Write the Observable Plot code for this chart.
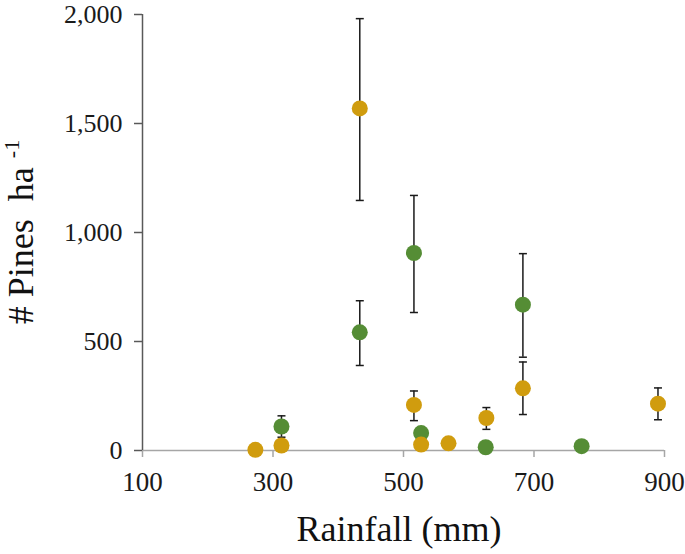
<!DOCTYPE html>
<html><head><meta charset="utf-8">
<script src="https://cdn.jsdelivr.net/npm/d3@7"></script>
<script src="https://cdn.jsdelivr.net/npm/@observablehq/plot@0.6"></script>
<style>body{margin:0;background:#fff}</style>
</head><body><div id="chart"></div>
<script>
const xTicks = [100, 300, 500, 700, 900];
const yTicks = [0, 500, 1000, 1500, 2000];

const greenRain = [313, 433, 516, 527, 626, 683, 773];
const greenPines = [110, 542, 906, 80, 15, 669, 20];
const greenLow = [61, 390, 633, null, null, 428, null];
const greenHigh = [159, 687, 1170, null, null, 903, null];

const orangeRain = [273, 313, 433, 516, 527, 569, 627, 683, 890];
const orangePines = [3, 23, 1569, 209, 27, 33, 149, 285, 215];
const orangeLow = [null, null, 1147, 137, null, null, 97, 165, 141];
const orangeHigh = [null, null, 1981, 273, null, null, 197, 406, 287];

const rows = (rain, val, lo, hi, series) =>
  rain.map((r, i) => ({rain: r, value: val[i], lo: lo[i], hi: hi[i], series}));
const data = [
  ...rows(greenRain, greenPines, greenLow, greenHigh, "Series A"),
  ...rows(orangeRain, orangePines, orangeLow, orangeHigh, "Series B")
];
const errs = data.filter(d => d.lo != null);

const capSymbol = {draw(ctx, size) { const w = Math.sqrt(size / Math.PI); ctx.moveTo(-w, 0); ctx.lineTo(w, 0); }};
const serif = "'Liberation Serif', 'Times New Roman', serif";

const chart = Plot.plot({
  width: 685, height: 554,
  marginLeft: 142, marginRight: 21, marginTop: 14, marginBottom: 104,
  style: {fontFamily: serif, background: "#fff", overflow: "visible"},
  x: {domain: [100, 900]},
  y: {domain: [0, 2000]},
  color: {type: "ordinal", domain: ["Series A", "Series B"], range: ["#558d35", "#d09c0e"]},
  marks: [
    Plot.ruleY([0], {stroke: "#a6a6a6", strokeWidth: 1.5}),
    Plot.axisX({ticks: xTicks, tickFormat: d => String(d), tickSize: 7, tickPadding: 14, fontSize: 27, stroke: "#a6a6a6", strokeWidth: 1.5, fill: "#1a1a1a", label: null}),
    Plot.ruleX([100], {stroke: "#595959", strokeWidth: 1.5}),
    Plot.axisY({ticks: yTicks, tickFormat: d => d.toLocaleString("en-US"), tickSize: 8, tickPadding: 12, fontSize: 26, stroke: "#595959", strokeWidth: 1.5, fill: "#1a1a1a", label: null}),
    Plot.ruleX(errs, {x: "rain", y1: "lo", y2: "hi", stroke: "#1a1a1a", strokeWidth: 1.5}),
    Plot.dot(errs, {x: "rain", y: "lo", symbol: capSymbol, r: 4, stroke: "#1a1a1a", strokeWidth: 1.5, fill: "none"}),
    Plot.dot(errs, {x: "rain", y: "hi", symbol: capSymbol, r: 4, stroke: "#1a1a1a", strokeWidth: 1.5, fill: "none"}),
    Plot.dot(data, {x: "rain", y: "value", fill: "series", r: 8})
  ]
});

const svg = d3.select(chart);
svg.append("text")
  .attr("x", 399).attr("y", 541)
  .attr("text-anchor", "middle")
  .attr("font-size", 36).attr("fill", "#111")
  .text("Rainfall (mm)");
const yt = svg.append("text")
  .attr("transform", "translate(33,232) rotate(-90)")
  .attr("text-anchor", "middle")
  .attr("font-size", 36).attr("fill", "#111");
yt.append("tspan").text("# Pines\u00a0\u00a0ha ");
yt.append("tspan").attr("font-size", 22).attr("dy", -14).text("-1");
svg.selectAll("text").style("font-family", serif);

document.getElementById("chart").appendChild(chart);
</script>
</body></html>
